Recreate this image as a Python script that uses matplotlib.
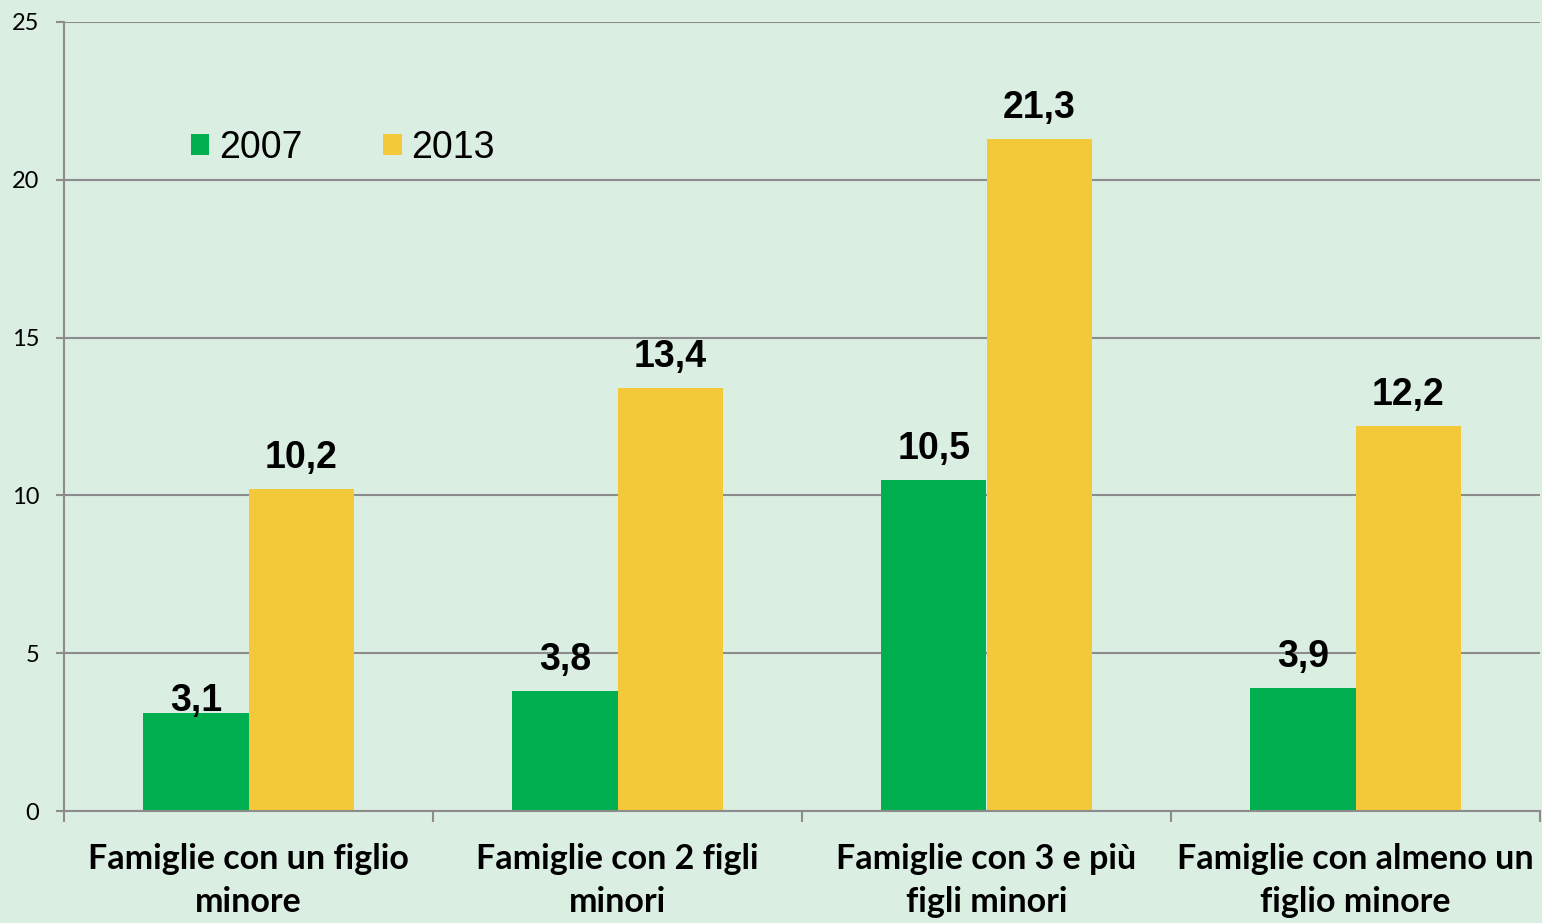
import matplotlib
matplotlib.use("Agg")
import matplotlib.pyplot as plt
import numpy as np

categories = ["Famiglie con un figlio\nminore", "Famiglie con 2 figli\nminori",
              "Famiglie con 3 e più\nfigli minori", "Famiglie con almeno un\nfiglio minore"]
series_names = ["2007", "2013"]
values_2007 = [3.1, 3.8, 10.5, 3.9]
values_2013 = [10.2, 13.4, 21.3, 12.2]
yticks = [0, 5, 10, 15, 20, 25]

bg = "#DBEEE2"
green = "#00B050"
yellow = "#F4C939"
grid_c = "#8C8C8C"

fig = plt.figure(figsize=(15.42, 9.23), dpi=100, facecolor=bg)
ax = fig.add_axes([64/1542, 1-811/923, (1540-64)/1542, (811-22)/923])
ax.set_facecolor(bg)

x = np.arange(len(categories))
w = 0.285
b1 = ax.bar(x - w/2, values_2007, w, color=green, zorder=2, label=series_names[0])
b2 = ax.bar(x + w/2, values_2013, w, color=yellow, zorder=2, label=series_names[1])

ax.set_xlim(-0.5, len(categories) - 0.5)
ax.set_ylim(0, 25)
ax.set_yticks(yticks)
ax.set_yticklabels([str(t) for t in yticks], fontsize=17, family="Lato")
ax.yaxis.grid(True, color=grid_c, linewidth=1.5, zorder=1)
ax.set_axisbelow(True)
ax.tick_params(axis="y", length=5.8, width=1.5, color=grid_c, pad=12)

ax.set_xticks(np.arange(len(categories) + 1) - 0.5)
ax.set_xticklabels([])
ax.tick_params(axis="x", length=8, width=1.5, color=grid_c)
for xi, lab in zip(x, categories):
    ax.text(xi, -1.0, lab, ha="center", va="top", fontsize=24.5, fontweight="bold",
            family="Lato", linespacing=1.44)

for s in ["top", "right"]:
    ax.spines[s].set_visible(False)
for s in ["left", "bottom"]:
    ax.spines[s].set_color(grid_c)
    ax.spines[s].set_linewidth(1.5)

def fmt(v):
    return f"{v:.1f}".replace(".", ",")

for bars, vals in ((b1, values_2007), (b2, values_2013)):
    for i, (r, v) in enumerate(zip(bars, vals)):
        off = -6 if (bars is b1 and i == 0) else 13
        ax.annotate(fmt(v), (r.get_x() + r.get_width()/2, v), xytext=(0, off),
                    textcoords="offset pixels", ha="center", va="bottom",
                    fontsize=27, fontweight="bold", family="Liberation Sans", zorder=3)

leg = ax.legend(loc="upper left", bbox_to_anchor=(0.063, 0.906), ncol=2, frameon=False,
                prop={"family": "Liberation Sans", "size": 27}, handlelength=0.5,
                handleheight=0.5, handletextpad=0.25, columnspacing=2.15)

fig.savefig("out.png", dpi=100, facecolor=bg)
